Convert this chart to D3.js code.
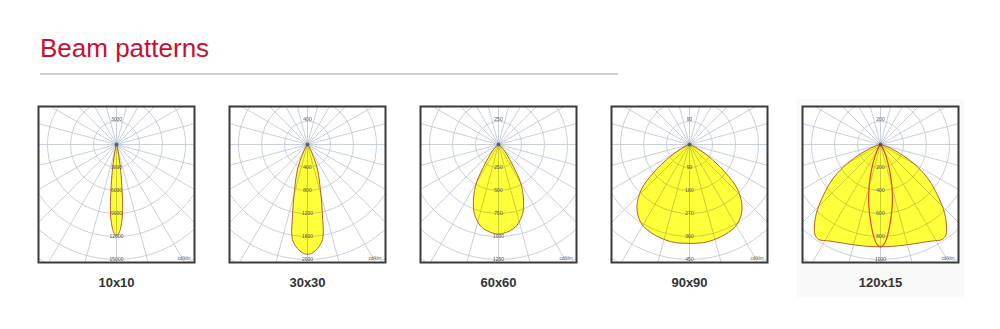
<!DOCTYPE html>
<html><head><meta charset="utf-8">
<script src="https://cdn.jsdelivr.net/npm/d3@7"></script>
<style>body{margin:0;background:#fff}svg{display:block}</style></head>
<body>
<svg id="c" width="1000" height="329"></svg>
<script>
// ---- data ----
const title = "Beam patterns";
const categories = ["10x10", "30x30", "60x60", "90x90", "120x15"];
const ringSteps = [3000, 400, 250, 90, 200];
const tickLabels = [
  ["3000", "6000", "9000", "12000", "15000"],
  ["400", "800", "1200", "1600", "2000"],
  ["250", "500", "750", "1000", "1250"],
  ["90", "180", "270", "360", "450"],
  ["200", "400", "600", "800", "1000"]
];
const unitLabel = "cd/klm";
// gamma angles (deg from nadir) and intensities (cd/klm)
const gamma10x10 = [0, 2, 4, 5, 6, 8, 10, 12, 15, 20, 30, 45, 90];
const cd10x10    = [11900, 11400, 10000, 9000, 7600, 4600, 2600, 1300, 550, 150, 30, 0, 0];
const gamma30x30 = [0, 3, 5.5, 9, 12, 16, 22, 27, 35, 45, 90];
const cd30x30    = [1910, 1880, 1817, 1673, 1250, 815, 460, 190, 50, 10, 0];
const gamma60x60 = [0, 10, 15, 20, 25, 30, 35, 40, 45, 50, 60, 90];
const cd60x60    = [975, 930, 870, 780, 640, 480, 250, 140, 80, 40, 10, 0];
const gamma90x90 = [0, 11, 24, 32, 40, 47, 52, 58, 64, 70, 80, 90];
const cd90x90    = [387, 387, 376, 360, 320, 257, 178, 88, 35, 12, 2, 0];
const gamma120   = [0, 10, 20, 28, 33, 36, 40, 44, 50, 55, 60, 65, 70, 75, 80, 90];
const cd120      = [890, 895, 915, 950, 985, 970, 890, 790, 620, 490, 340, 190, 90, 35, 10, 0];
const gamma15    = [0, 2, 4, 6, 8, 10, 12, 14, 16, 18, 20, 24, 28, 35, 45, 90];
const cd15       = [890, 870, 810, 730, 650, 570, 497, 420, 350, 280, 220, 130, 70, 25, 5, 0];

const patterns = [
  [{g: gamma10x10, v: cd10x10, fill: true}],
  [{g: gamma30x30, v: cd30x30, fill: true}],
  [{g: gamma60x60, v: cd60x60, fill: true}],
  [{g: gamma90x90, v: cd90x90, fill: true}],
  [{g: gamma120, v: cd120, fill: true}, {g: gamma15, v: cd15, fill: false}]
];

// ---- layout ----
const svg = d3.select("#c");
const boxSize = 156, boxTop = 106.5, originDy = 38, ringPx = 23;
const xCenter = d3.scalePoint().domain(categories).range([116.5, 880.5]);

svg.append("text").attr("x", 40).attr("y", 57)
  .attr("font-family", "Liberation Sans, Arial, sans-serif")
  .attr("font-size", 26).attr("fill", "#c8102e").text(title);
svg.append("line").attr("x1", 40).attr("x2", 618).attr("y1", 74).attr("y2", 74)
  .attr("stroke", "#cfcfcf").attr("stroke-width", 2);

// faint card behind last chart
svg.append("rect").attr("x", xCenter(categories[4]) - 84).attr("y", 99)
  .attr("width", 168).attr("height", 198).attr("fill", "#f9f9f9");

const rad = Math.PI / 180;

categories.forEach((cat, i) => {
  const cx = xCenter(cat);
  const left = cx - boxSize / 2;
  const oy = boxTop + originDy;
  const r = d3.scaleLinear().domain([0, ringSteps[i]]).range([0, ringPx]);

  const clipId = "clip" + i;
  svg.append("clipPath").attr("id", clipId).append("rect")
    .attr("x", left).attr("y", boxTop).attr("width", boxSize).attr("height", boxSize);

  svg.append("rect").attr("x", left).attr("y", boxTop).attr("width", boxSize).attr("height", boxSize)
    .attr("fill", "#fff");

  const g = svg.append("g").attr("clip-path", `url(#${clipId})`)
    .append("g").attr("transform", `translate(${cx},${oy})`);

  // beam fills
  const line = d3.lineRadial().angle(d => d[0]).radius(d => d[1])
    .curve(d3.curveCatmullRomClosed.alpha(0.5));
  const pts = p => {
    const a = p.g.map((gm, k) => [Math.PI - gm * rad, r(p.v[k])]);
    for (let k = p.g.length - 2; k >= 1; k--) a.push([Math.PI + p.g[k] * rad, r(p.v[k])]);
    return a;
  };
  patterns[i].filter(p => p.fill).forEach(p => {
    g.append("path").attr("d", line(pts(p))).attr("fill", "#ffff3a").attr("stroke", "none");
  });

  // grid
  const grid = g.append("g").style("mix-blend-mode", "multiply");
  d3.range(1, 8).forEach(k => grid.append("circle").attr("r", r(ringSteps[i] * k))
    .attr("fill", "none").attr("stroke", "#c3c9d8").attr("stroke-width", 0.9));
  d3.range(0, 360, 15).forEach(a => grid.append("line")
    .attr("x1", 0).attr("y1", 0)
    .attr("x2", 220 * Math.sin(a * rad)).attr("y2", -220 * Math.cos(a * rad))
    .attr("stroke", "#c3c9d8").attr("stroke-width", 0.9));

  // outlines
  patterns[i].forEach(p => {
    g.append("path").attr("d", line(pts(p))).attr("fill", "none")
      .attr("stroke", p.fill ? "#b5602a" : "#e0452a").attr("stroke-width", p.fill ? 1 : 1.2);
  });

  g.append("circle").attr("r", 2).attr("fill", "#3c4a78").attr("opacity", 0.8);

  // tick labels
  const tl = g.append("g").attr("font-family", "Liberation Sans, Arial, sans-serif")
    .attr("font-size", 5).attr("fill", "#555").attr("text-anchor", "middle");
  tl.append("text").attr("x", 0).attr("y", -r(ringSteps[i]) - 1).text(tickLabels[i][0]);
  tickLabels[i].forEach((t, k) => tl.append("text").attr("x", 0)
    .attr("y", r(ringSteps[i] * (k + 1)) + 1.5).text(t));

  svg.append("text").attr("x", left + boxSize - 4).attr("y", boxTop + boxSize - 3)
    .attr("font-family", "Liberation Sans, Arial, sans-serif").attr("font-size", 4.5)
    .attr("fill", "#555").attr("text-anchor", "end").text(unitLabel);

  svg.append("rect").attr("x", left).attr("y", boxTop).attr("width", boxSize).attr("height", boxSize)
    .attr("fill", "none").attr("stroke", "#3a3a3a").attr("stroke-width", 2);

  svg.append("text").attr("x", cx).attr("y", 287)
    .attr("font-family", "Liberation Sans, Arial, sans-serif").attr("font-size", 13)
    .attr("font-weight", "bold").attr("fill", "#333").attr("text-anchor", "middle").text(cat);
});
</script>
</body></html>
